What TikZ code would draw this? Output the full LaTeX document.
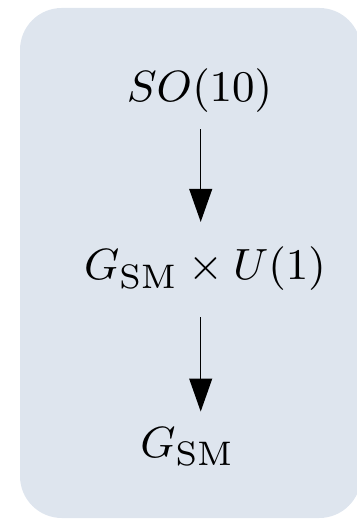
\documentclass[tikz,border=0pt]{standalone}
\usetikzlibrary{arrows.meta}
\definecolor{panel}{RGB}{222,229,238}
\begin{document}
\begin{tikzpicture}[x=0.2058pt,y=-0.2058pt,
  lbl/.style={inner sep=0pt,anchor=base,font=\fontsize{9.5pt}{11pt}\selectfont},
  arr/.style={line width=0.32pt,-{Triangle[length=6.8pt,width=4.7pt]}}]
\useasboundingbox (0,0) rectangle (357,520);
\clip (0,0) rectangle (357,520);
\fill[panel,rounded corners=8.6pt] (20,8) rectangle (361,518);
\node[lbl] (top) at (199.5,102) {$SO(10)$};
\node[lbl] (mid) at (205,280) {$G_{\mathrm{SM}}\times U(1)$};
\node[lbl] (bot) at (187.5,457) {$G_{\mathrm{SM}}$};
\coordinate (ax) at (200.7,0);
\draw[arr,shorten <=3.2pt,shorten >=5.0pt] (top.south -| ax) -- (mid.north -| ax);
\draw[arr,shorten <=5.2pt,shorten >=3.0pt] (mid.south -| ax) -- (bot.north -| ax);
\end{tikzpicture}
\end{document}
